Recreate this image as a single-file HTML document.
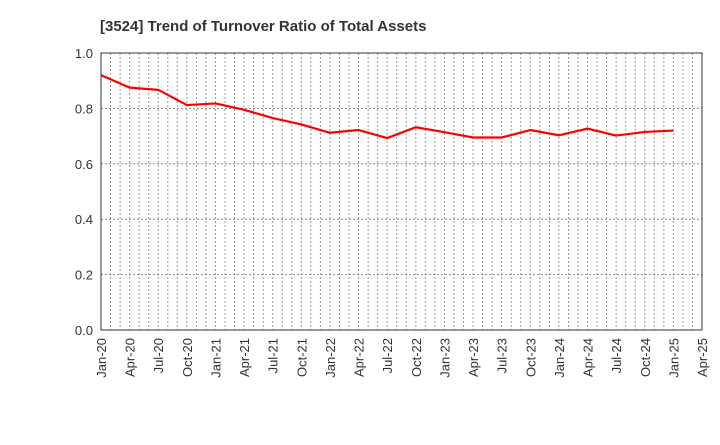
<!DOCTYPE html>
<html><head><meta charset="utf-8"><style>
body{margin:0;background:#fff;}
svg text{font-family:"Liberation Sans",Arial,sans-serif;}
</style></head><body>
<svg id="chart" width="720" height="440" xmlns="http://www.w3.org/2000/svg">
<text x="100" y="31" font-size="15" font-weight="bold" fill="#333">[3524]  Trend of Turnover Ratio of Total Assets</text>
<g id="grid"></g><g id="axes"></g><g id="series"></g>
</svg>
<script>
const xLabels=["Jan-20","Apr-20","Jul-20","Oct-20","Jan-21","Apr-21","Jul-21","Oct-21","Jan-22","Apr-22","Jul-22","Oct-22","Jan-23","Apr-23","Jul-23","Oct-23","Jan-24","Apr-24","Jul-24","Oct-24","Jan-25","Apr-25"];
const values=[0.92,0.875,0.867,0.812,0.818,0.795,0.765,0.742,0.712,0.722,0.693,0.732,0.714,0.695,0.695,0.722,0.703,0.727,0.702,0.715,0.72];
const yTicks=[0,0.2,0.4,0.6,0.8,1.0];
const L=101,R=702,T=53,B=330;
const NS="http://www.w3.org/2000/svg";
const nQ=xLabels.length-1;
const xs=i=>L+(R-L)*i/nQ;
const ys=v=>B-(B-T)*v/1.0;
function mk(tag,attrs,parent){const e=document.createElementNS(NS,tag);for(const k in attrs)e.setAttribute(k,attrs[k]);document.getElementById(parent).appendChild(e);return e;}
// monthly vertical grid
for(let m=1;m<nQ*3;m++){const x=L+(R-L)*m/(nQ*3);
const g=mk('line',{x1:x,x2:x,y1:T,y2:B,stroke:'#999','stroke-width':1,'stroke-dasharray':'2,2'},'grid');

}
yTicks.forEach(v=>{const y=ys(v);
if(v>0&&v<1){const g=mk('line',{x1:L,x2:R,y1:y,y2:y,stroke:'#888','stroke-width':1,'stroke-dasharray':'2,2'},'grid');

}
const t=mk('text',{x:L-8,y:y+5,'text-anchor':'end','font-size':13,fill:'#333'},'axes');t.textContent=v.toFixed(1);

});
const fr=mk('rect',{x:L,y:T,width:R-L,height:B-T,fill:'none',stroke:'#333','stroke-width':1},'axes');


xLabels.forEach((s,i)=>{const x=xs(i);
const t=mk('text',{x:0,y:0,'text-anchor':'end','font-size':13,fill:'#333',transform:`translate(${x+5},${B+8}) rotate(-90)`},'axes');t.textContent=s;

});
const p=mk('polyline',{points:values.map((v,i)=>xs(i)+','+ys(v)).join(' '),fill:'none',stroke:'#f00','stroke-width':2.2,'stroke-linejoin':'round'},'series');


</script>
</body></html>
